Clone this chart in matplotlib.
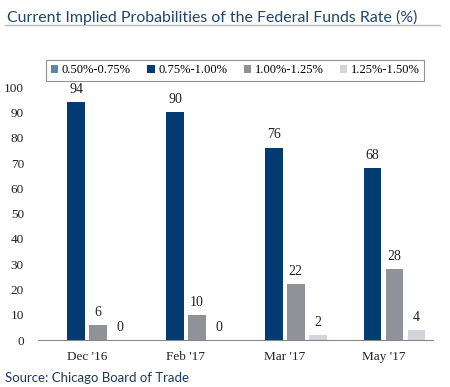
import matplotlib
matplotlib.use("Agg")
import matplotlib.pyplot as plt
import numpy as np

# Data
categories = ["Dec '16", "Feb '17", "Mar '17", "May '17"]
series_names = ["0.50%-0.75%", "0.75%-1.00%", "1.00%-1.25%", "1.25%-1.50%"]
rate_050_075 = [0, 0, 0, 0]
rate_075_100 = [94, 90, 76, 68]
rate_100_125 = [6, 10, 22, 28]
rate_125_150 = [0, 0, 2, 4]
show_labels = [False, True, True, True]

COLORS = ["#5E88A8", "#003B71", "#8F9296", "#D2D5DC"]
TITLE_COLOR = "#1E4470"
SERIF = "Liberation Serif"
SANS = "Lato"

fig = plt.figure(figsize=(4.5, 3.87), dpi=100)
ax = fig.add_axes([0.084, 0.121, 0.878, 0.654])

x = np.arange(len(categories))
bar_w = 0.18
step = 0.222
all_series = [rate_050_075, rate_075_100, rate_100_125, rate_125_150]

for i, (vals, name, col) in enumerate(zip(all_series, series_names, COLORS)):
    pos = x + (i - 1.5) * step
    ax.bar(pos, vals, width=bar_w, color=col, label=name, zorder=2)
    if show_labels[i]:
        for px, v in zip(pos, vals):
            ax.text(px, v + 2.5, str(v), ha="center", va="bottom",
                    fontsize=10, family=SERIF, color="#222222", clip_on=False)

ax.set_xlim(-0.5, len(categories) - 0.5)
ax.set_ylim(0, 100)
ax.set_yticks(range(0, 101, 10))
ax.set_xticks(x)
ax.set_xticklabels(categories)
for lbl in ax.get_xticklabels() + ax.get_yticklabels():
    lbl.set_family(SERIF)
    lbl.set_fontsize(9.5)
    lbl.set_color("#222222")
ax.tick_params(length=0)
ax.tick_params(axis="y", pad=10)
ax.tick_params(axis="x", pad=8)
for s in ["top", "right", "left"]:
    ax.spines[s].set_visible(False)
ax.spines["bottom"].set_color("#888888")
ax.spines["bottom"].set_linewidth(0.8)

leg = ax.legend(loc="lower center", bbox_to_anchor=(0.5, 1.025), ncol=4,
                frameon=True, fancybox=False, handlelength=0.6,
                handleheight=0.6, handletextpad=0.3, columnspacing=1.3,
                borderpad=0.35, borderaxespad=0,
                prop={"family": SERIF, "size": 9})
leg.get_frame().set_edgecolor("#777777")
leg.get_frame().set_linewidth(0.8)

fig.text(0.015, 0.975, "Current Implied Probabilities of the Federal Funds Rate (%)",
         ha="left", va="top", fontsize=11.4, family=SANS, color=TITLE_COLOR)
fig.add_artist(plt.Line2D([0.012, 0.978], [0.935, 0.935], color="#BBBBBB",
                          linewidth=1.0, transform=fig.transFigure))
fig.text(0.012, 0.008, "Source: Chicago Board of Trade", ha="left", va="bottom",
         fontsize=9.5, family=SANS, color="#1E3A5F")

fig.savefig("out.png", dpi=100, facecolor="white")
